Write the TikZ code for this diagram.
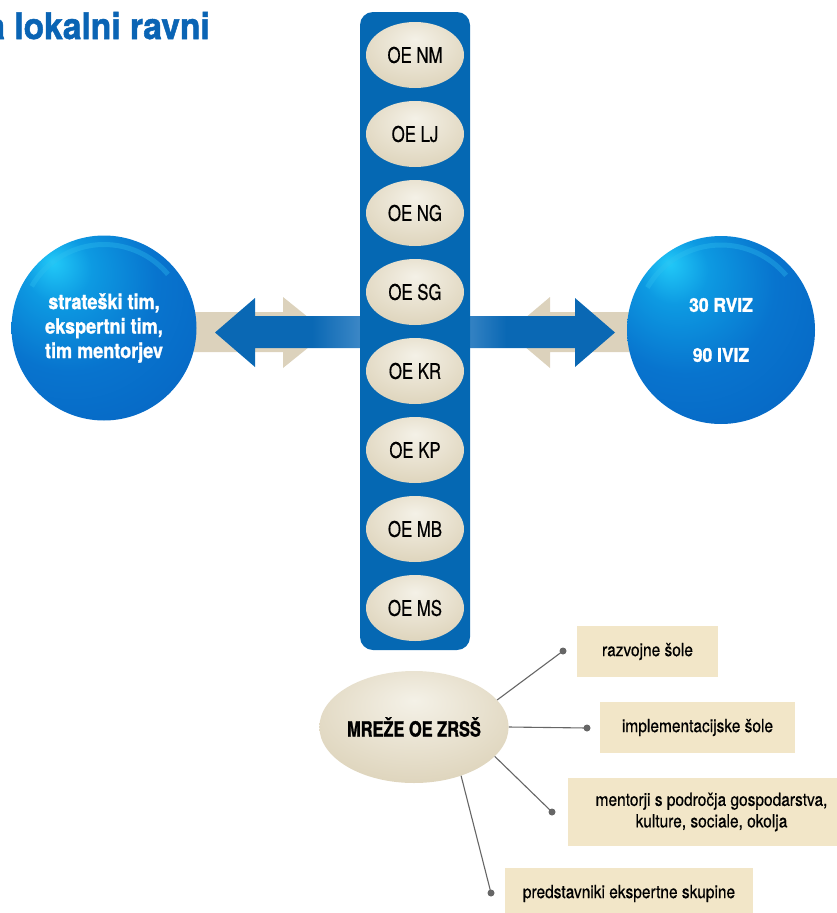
\documentclass[tikz,border=0pt]{standalone}
\usepackage{fontspec}
\setmainfont{TeX Gyre Heros}
% condensed cuts of Heros for the various labels
\newfontfamily\cnoe{TeX Gyre Heros}[FakeStretch=0.78, FakeBold=0.5]
\newfontfamily\cnnet{TeX Gyre Heros}[FakeStretch=0.78, BoldFeatures={FakeBold=1.2}]
\newfontfamily\cntag{TeX Gyre Heros}[FakeStretch=0.86, FakeBold=0.5]
\newfontfamily\cnsph{TeX Gyre Heros}[FakeStretch=0.86, BoldFeatures={FakeBold=1.2}]
\newfontfamily\cnwide{TeX Gyre Heros}[FakeStretch=0.92, BoldFeatures={FakeBold=1.4}]
\usetikzlibrary{shapes.geometric,shadings}

% palette
\definecolor{colblue}{HTML}{0568B3}
\definecolor{arrblue}{HTML}{0A68B4}
\definecolor{arrlight}{HTML}{8AB8E2}
\definecolor{beige}{HTML}{DCD2BC}
\definecolor{beigelight}{HTML}{EFEAE0}
\definecolor{boxfill}{HTML}{F2E6C8}
\definecolor{linegray}{HTML}{666666}
\definecolor{titleblue}{HTML}{0A64B4}
\definecolor{pearlA}{HTML}{F4F1E7}
\definecolor{pearlB}{HTML}{E8E1CF}
\definecolor{pearlC}{HTML}{D8CDB1}
\definecolor{pearlD}{HTML}{C9BC9B}
\definecolor{pearlE}{HTML}{D4C9AC}
\definecolor{sphA}{HTML}{22CAF8}
\definecolor{sphB}{HTML}{0D9AE2}
\definecolor{sphC}{HTML}{0874CE}
\definecolor{sphD}{HTML}{0662C0}
\definecolor{sphE}{HTML}{04479C}
\definecolor{sphF}{HTML}{023A88}
\definecolor{glint}{HTML}{30C0F0}

% glossy fills
\pgfdeclareradialshading{pearl}{\pgfpoint{0bp}{12bp}}{%
  color(0bp)=(pearlA); color(18bp)=(pearlB); color(40bp)=(pearlC);
  color(55bp)=(pearlD); color(64bp)=(pearlE)}
\pgfdeclareradialshading{sphereblue}{\pgfpoint{-14bp}{18bp}}{%
  color(0bp)=(sphA); color(9bp)=(sphB); color(24bp)=(sphC);
  color(48bp)=(sphD); color(63bp)=(sphE); color(76bp)=(sphF)}
% arrow shafts fading towards the column
\pgfdeclarehorizontalshading{fadetoright}{100bp}{%
  color(0bp)=(arrblue); color(58bp)=(arrblue); color(100bp)=(arrlight)}
\pgfdeclarehorizontalshading{fadetoleft}{100bp}{%
  color(0bp)=(arrlight); color(38bp)=(arrblue); color(100bp)=(arrblue)}
\pgfdeclarehorizontalshading{beigeleft}{100bp}{%
  color(0bp)=(beigelight); color(35bp)=(beige); color(100bp)=(beige)}
\pgfdeclarehorizontalshading{beigeright}{100bp}{%
  color(0bp)=(beige); color(65bp)=(beige); color(100bp)=(beigelight)}

\begin{document}
\begin{tikzpicture}[x=1pt,y=-1pt,
  oe/.style={ellipse, shading=pearl, minimum width=98pt, minimum height=66pt,
    inner sep=0pt, text=black, font=\cnoe\fontsize{21.5}{24}\selectfont},
  sphere/.style={circle, shading=sphereblue, inner sep=0pt, text=white,
    align=center},
  tag/.style={fill=boxfill, inner sep=0pt, align=center,
    font=\cntag\fontsize{18}{21.5}\selectfont},
  link/.style={draw=linegray, line width=1.1pt},
  enddot/.style={circle, fill=linegray, inner sep=0pt, minimum size=7pt}]
\useasboundingbox (0,0) rectangle (837,913);

% heading
\node[anchor=base east, inner sep=0pt, text=titleblue,
  font=\cnwide\bfseries\fontsize{36.5}{40}\selectfont] (title) at (210,39)
  {a lokalni ravni};

% beige arrows behind the blue ones
\path[shading=beigeleft] (170,312) -- (283,312) -- (283,297) -- (327,332.5)
  -- (283,368) -- (283,352) -- (170,352) -- cycle;
\path[shading=beigeright] (508,332.5) -- (550,297) -- (550,312) -- (665,312)
  -- (665,352) -- (550,352) -- (550,368) -- cycle;

% blue arrows
\path[shading=fadetoright] (215,332.5) -- (255,298) -- (255,316) -- (362,316)
  -- (362,348) -- (255,348) -- (255,367) -- cycle;
\path[shading=fadetoleft] (468,316) -- (575,316) -- (575,298) -- (615,332.5)
  -- (575,367) -- (575,348) -- (468,348) -- cycle;

% column of units
\node[fill=colblue, rounded corners=13pt, minimum width=110pt,
  minimum height=638pt, inner sep=0pt] (col) at (415,331) {};
\node[oe] (nm) at (415,55)  {OE NM};
\node[oe] (lj) at (415,134) {OE LJ};
\node[oe] (ng) at (415,213) {OE NG};
\node[oe] (sg) at (415,292) {OE SG};
\node[oe] (kr) at (415,371) {OE KR};
\node[oe] (kp) at (415,450) {OE KP};
\node[oe] (mb) at (415,529) {OE MB};
\node[oe] (ms) at (415,608) {OE MS};

% spheres
\node[sphere, minimum size=185pt,
  font=\cnsph\bfseries\fontsize{21}{24.5}\selectfont] (teams) at (104,328)
  {strateški tim,\\ ekspertni tim,\\ tim mentorjev};
\node[sphere, minimum size=188pt,
  font=\cnwide\bfseries\fontsize{19}{50}\selectfont] (viz) at (721,330)
  {30 RVIZ\\ 90 IVIZ};

% soft reflections along the lower rims
\foreach \s/\r in {teams/92.5, viz/94} {
  \begin{scope}
    \clip (\s.center) circle[radius=\r];
    \draw[glint, opacity=0.35, line width=5pt]
      ([shift={(-150:\r-9)}]\s.center) arc[start angle=-150, end angle=-40, radius=\r-9];
  \end{scope}
}

% network node and its partners
\node[ellipse, shading=pearl, minimum width=162pt, minimum height=112pt,
  inner sep=0pt, font=\cnnet\bfseries\fontsize{21}{24}\selectfont]
  (net) at (414,727) {MREŽE OE ZRSŠ};

\node[tag, minimum width=141pt, minimum height=51pt] (t1) at (647.5,651.5)
  {razvojne šole};
\node[tag, minimum width=195pt, minimum height=51pt] (t2) at (697.5,727.5)
  {implementacijske šole};
\node[tag, minimum width=287pt, minimum height=68pt] (t3) at (711.5,812)
  {mentorji s področja gospodarstva,\\ kulture, sociale, okolja};
\node[tag, minimum width=248pt, minimum height=51pt] (t4) at (629,893.5)
  {predstavniki ekspertne skupine};

\node[enddot] (d1) at (563,651) {};
\node[enddot] (d2) at (587,728) {};
\node[enddot] (d3) at (552,812) {};
\node[enddot] (d4) at (491,893) {};

\draw[link] (net.18)  -- (d1.center);
\draw[link] (net.0)   -- (d2.center);
\draw[link] (net.-20) -- (d3.center);
\draw[link] (net.-46) -- (d4.center);
\end{tikzpicture}
\end{document}
